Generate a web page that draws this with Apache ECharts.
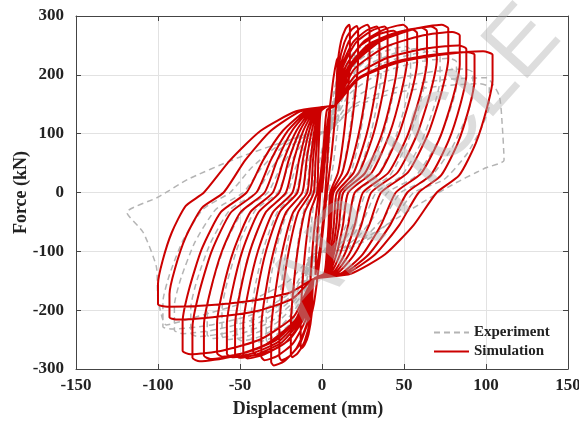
<!DOCTYPE html>
<html>
<head>
<meta charset="utf-8">
<script src="https://cdn.jsdelivr.net/npm/echarts@6/dist/echarts.min.js"></script>
<style>
html,body{margin:0;padding:0;background:#fff;}
#chart{width:579px;height:421px;}
</style>
</head>
<body>
<div id="chart"></div>
<script>
// ---- axis ticks ----
const xTicks = [-150, -100, -50, 0, 50, 100, 150];
const yTicks = [-300, -200, -100, 0, 100, 200, 300];
const seriesNames = ['Experiment', 'Simulation'];

// ---- Simulation cycles [displacement mm, force kN] ----
const simC1 = [[0,0],[2.5,75],[5,150],[4.5,110],[2,0],[-1,-90],[-4,-140],[-3.5,-100],[-1,0],[2,90]];
const simC2 = [[5,150],[7,195],[9,225],[10,230],[9.5,180],[6,70],[3,0],[0,-80],[-3,-150],[-5,-190],[-7,-212],[-8,-215],[-7.5,-170],[-5,-70],[-2,0],[1,80],[3,140]];
const simC3 = [[8,148],[9.4,215],[11.6,257],[14.3,278],[16.5,285],[17,279],[17,228],[15.8,171],[13.4,100],[9.8,34],[5,0],[4,-55],[2.8,-105],[1.3,-138],[-5,-147],[-6.2,-205],[-8.2,-241],[-10.6,-259],[-12.6,-265],[-13,-259],[-13,-212],[-12,-159],[-10,-93],[-7,-32],[-3,0],[-2.3,55],[-1.6,105],[-0.7,138],[3,146]];
const simC4 = [[8,148],[10.1,214],[13.6,255],[17.8,276],[21.2,283],[22,277],[22,226],[20.4,170],[17.2,99],[12.4,34],[6,0],[4.8,-55],[3.3,-105],[1.5,-138],[-5,-147],[-7.1,-213],[-10.6,-253],[-14.8,-273],[-18.2,-280],[-19,-274],[-19,-224],[-17.6,-168],[-14.8,-98],[-10.6,-34],[-5,0],[-3.9,55],[-2.6,105],[-1.1,138],[3,146]];
const simC5 = [[8,148],[11.2,215],[16.4,257],[22.7,278],[27.7,285],[29,279],[29,228],[26.8,171],[22.4,100],[15.8,34],[7,0],[5.6,-55],[3.9,-105],[1.8,-138],[-5,-147],[-8.2,-215],[-13.4,-257],[-19.7,-278],[-24.7,-285],[-26,-279],[-26,-228],[-24.1,-171],[-20.3,-100],[-14.6,-34],[-7,0],[-5.5,55],[-3.6,105],[-1.5,138],[3,146]];
const simC6 = [[8,148],[12,214],[18.8,255],[26.9,275],[33.4,282],[35,276],[35,226],[32.4,169],[27.2,99],[19.4,34],[9,0],[7.2,-55],[5,-105],[2.3,-138],[-5,-147],[-8.9,-220],[-15.4,-264],[-23.2,-287],[-29.4,-294],[-31,-288],[-31,-235],[-28.8,-176],[-24.4,-103],[-17.8,-35],[-9,0],[-7,55],[-4.7,105],[-2,138],[3,146]];
const simC7 = [[8,148],[12.8,214],[20.8,255],[30.4,275],[38.1,282],[40,276],[40,226],[37.1,169],[31.3,99],[22.6,34],[11,0],[8.8,-55],[6,-105],[2.8,-138],[-5,-147],[-9.8,-215],[-17.8,-257],[-27.4,-278],[-35.1,-285],[-37,-279],[-37,-228],[-34.5,-171],[-29.5,-100],[-22,-34],[-12,0],[-9.4,55],[-6.2,105],[-2.6,138],[3,146]];
const simC8 = [[8,148],[13.7,210],[23.2,249],[34.6,269],[43.7,275],[46,269],[46,220],[42.7,165],[36.1,96],[26.2,33],[13,0],[10.4,-55],[7.2,-105],[3.3,-138],[-5,-147],[-10.6,-211],[-19.8,-250],[-30.9,-269],[-40,-276],[-42,-270],[-42,-221],[-39.3,-166],[-33.9,-97],[-25.8,-33],[-15,0],[-11.7,55],[-7.8,105],[-3.3,138],[3,146]];
const simC9 = [[8,148],[14.6,215],[25.6,257],[38.8,278],[49.4,285],[52,279],[52,228],[48.4,171],[41.2,100],[30.4,34],[16,0],[12.8,-55],[8.8,-105],[4,-138],[-5,-147],[-11.5,-214],[-22.2,-255],[-35.1,-275],[-45.4,-282],[-48,-276],[-48,-226],[-45,-169],[-39,-99],[-30,-34],[-18,0],[-14,55],[-9.4,105],[-4,138],[3,146]];
const simC10 = [[8,148],[15.5,211],[28,251],[43,270],[55,277],[58,271],[58,222],[54.2,166],[46.6,97],[35.2,33],[20,0],[16,-55],[11,-105],[5,-138],[-5,-147],[-12.2,-213],[-24.2,-254],[-38.6,-274],[-50.1,-281],[-53,-275],[-53,-225],[-49.9,-169],[-43.7,-98],[-34.4,-34],[-22,0],[-17.2,55],[-11.4,105],[-4.8,138],[3,146]];
const simC11 = [[8,148],[16.4,212],[30.4,253],[47.2,273],[60.6,280],[64,274],[64,224],[60.1,168],[52.3,98],[40.6,34],[25,0],[20,-55],[13.8,-105],[6.3,-138],[-5,-147],[-13,-212],[-26.2,-253],[-42.1,-273],[-54.8,-280],[-58,-274],[-58,-224],[-54.8,-168],[-48.4,-98],[-38.8,-34],[-26,0],[-20.3,55],[-13.5,105],[-5.7,138],[3,146]];
const simC12 = [[8,148],[17.3,214],[32.8,255],[51.4,275],[66.3,282],[70,276],[70,226],[66,169],[58,99],[46,34],[30,0],[24,-55],[16.5,-105],[7.5,-138],[-5,-147],[-13.9,-212],[-28.6,-252],[-46.3,-272],[-60.5,-279],[-64,-273],[-64,-223],[-60.6,-167],[-53.8,-98],[-43.6,-33],[-30,0],[-23.4,55],[-15.6,105],[-6.6,138],[3,146]];
const simC13 = [[8,148],[18.4,215],[35.6,257],[56.3,278],[72.9,285],[77,279],[77,228],[72.9,171],[64.7,100],[52.4,34],[36,0],[28.8,-55],[19.8,-105],[9,-138],[-5,-147],[-15,-214],[-31.8,-255],[-51.9,-276],[-68,-283],[-72,-277],[-72,-226],[-68.3,-170],[-60.9,-99],[-49.8,-34],[-35,0],[-27.3,55],[-18.2,105],[-7.7,138],[3,146]];
const simC14 = [[8,148],[19.4,209],[38.4,247],[61.2,267],[79.4,273],[84,267],[84,218],[80.1,164],[72.3,96],[60.6,33],[45,0],[36,-55],[24.8,-105],[11.3,-138],[-5,-147],[-16.1,-216],[-34.6,-259],[-56.8,-280],[-74.6,-287],[-79,-281],[-79,-230],[-75.1,-172],[-67.3,-100],[-55.6,-34],[-40,0],[-31.2,55],[-20.8,105],[-8.8,138],[3,146]];
const simC15 = [[8,148],[20,198],[40,229],[64,245],[83.2,250],[88,244],[88,200],[84.4,150],[77.2,88],[66.4,30],[52,0],[41.6,-55],[28.6,-105],[13,-138],[-5,-147],[-17,-210],[-37,-249],[-61,-269],[-80.2,-275],[-85,-269],[-85,-220],[-81.1,-165],[-73.3,-96],[-61.6,-33],[-46,0],[-35.9,55],[-23.9,105],[-10.1,138],[3,146]];
const simC16 = [[8,148],[20.8,192],[42,220],[67.5,234],[87.9,239],[93,234],[93,191],[89.6,143],[82.8,84],[72.6,29],[59,0],[47.2,-55],[32.5,-105],[14.8,-138],[-5,-147],[-18.2,-181],[-40.2,-202],[-66.6,-212],[-87.7,-216],[-93,-212],[-93,-173],[-89.7,-130],[-83.1,-76],[-73.2,-26],[-60,0],[-46.8,55],[-31.2,105],[-13.2,138],[3,146]];
const simC17 = [[8,148],[22.4,193],[46.4,221],[75.2,235],[98.2,240],[104,234],[104,192],[100.6,144],[93.8,84],[83.6,29],[70,0],[56,-55],[38.5,-105],[17.5,-138],[-5,-147],[-19.3,-170],[-43,-184],[-71.5,-192],[-94.3,-194],[-100,-190],[-100,-155],[-97.2,-116],[-91.6,-68],[-83.2,-23],[-72,0],[-56,55],[-37.4,105],[-15.8,138],[3,146],[8,148]];

// ---- Experiment cycles [displacement mm, force kN] ----
const expC1 = [[0,0],[3,70],[6,140],[5,100],[2,0],[-2,-70],[-5,-130],[-4,-90],[-1,0],[2,60]];
const expC2 = [[5,105],[8,160],[11,195],[12,200],[11,150],[7,50],[4,0],[0,-60],[-5,-105],[-7,-150],[-9.5,-190],[-10,-195],[-9,-140],[-6,-40],[-4,0],[-1,60],[3,104]];
const expC3 = [[5,105],[7.3,172],[11,211],[15.5,231],[19.1,238],[20,232],[20,190],[18.6,143],[15.8,83],[11.6,29],[6,0],[4.8,-40],[3.3,-75],[1.5,-98],[-5,-105],[-7,-169],[-10.2,-207],[-14.1,-226],[-17.2,-232],[-18,-226],[-18,-186],[-16.8,-139],[-14.4,-81],[-10.8,-28],[-6,0],[-4.7,40],[-3.1,75],[-1.3,98],[3,104]];
const expC4 = [[5,105],[8.5,178],[14.2,221],[21.1,243],[26.6,250],[28,244],[28,200],[26.2,150],[22.6,88],[17.2,30],[10,0],[8,-40],[5.5,-75],[2.5,-98],[-5,-105],[-8.2,-177],[-13.4,-219],[-19.7,-241],[-24.7,-248],[-26,-242],[-26,-198],[-24.4,-149],[-21.2,-87],[-16.4,-30],[-10,0],[-7.8,40],[-5.2,75],[-2.2,98],[3,104]];
const expC5 = [[5,105],[9.7,179],[17.4,223],[26.7,245],[34.1,252],[36,246],[36,202],[33.6,151],[28.8,88],[21.6,30],[12,0],[9.6,-40],[6.6,-75],[3,-98],[-5,-105],[-9.4,-181],[-16.6,-226],[-25.3,-248],[-32.3,-256],[-34,-250],[-34,-205],[-31.8,-154],[-27.4,-90],[-20.8,-31],[-12,0],[-9.4,40],[-6.2,75],[-2.6,98],[3,104]];
const expC6 = [[5,105],[11,178],[21,221],[33,243],[42.6,250],[45,244],[45,200],[42.1,150],[36.3,88],[27.6,30],[16,0],[12.8,-40],[8.8,-75],[4,-98],[-5,-105],[-10.7,-180],[-20.2,-225],[-31.6,-248],[-40.7,-255],[-43,-249],[-43,-204],[-40.3,-153],[-34.9,-89],[-26.8,-31],[-16,0],[-12.5,40],[-8.3,75],[-3.5,98],[3,104]];
const expC7 = [[5,105],[12.4,177],[24.6,219],[39.3,241],[51.1,248],[54,242],[54,198],[50.7,149],[44.1,87],[34.2,30],[21,0],[16.8,-40],[11.6,-75],[5.3,-98],[-5,-105],[-12,-179],[-23.8,-223],[-37.9,-245],[-49.2,-252],[-52,-246],[-52,-202],[-48.9,-151],[-42.7,-88],[-33.4,-30],[-21,0],[-16.4,40],[-10.9,75],[-4.6,98],[3,104]];
const expC8 = [[5,105],[13.7,175],[28.2,217],[45.6,238],[59.5,245],[63,239],[63,196],[59.4,147],[52.2,86],[41.4,29],[27,0],[21.6,-40],[14.9,-75],[6.8,-98],[-5,-105],[-13.4,-178],[-27.4,-221],[-44.2,-243],[-57.6,-250],[-61,-244],[-61,-200],[-57.6,-150],[-50.8,-88],[-40.6,-30],[-27,0],[-21.1,40],[-14,75],[-5.9,98],[3,104]];
const expC9 = [[5,105],[15,173],[31.8,213],[51.9,233],[68,240],[72,234],[72,192],[68.1,144],[60.3,84],[48.6,29],[33,0],[26.4,-40],[18.2,-75],[8.3,-98],[-5,-105],[-14.8,-177],[-31,-219],[-50.5,-241],[-66.1,-248],[-70,-242],[-70,-198],[-66.3,-149],[-58.9,-87],[-47.8,-30],[-33,0],[-25.7,40],[-17.2,75],[-7.3,98],[3,104]];
const expC10 = [[5,105],[16.6,167],[35.8,203],[58.9,222],[77.4,228],[82,222],[82,182],[77.8,137],[69.4,80],[56.8,27],[40,0],[32,-40],[22,-75],[10,-98],[-5,-105],[-16.3,-175],[-35,-217],[-57.5,-238],[-75.5,-245],[-80,-239],[-80,-196],[-76,-147],[-68,-86],[-56,-29],[-40,0],[-31.2,40],[-20.8,75],[-8.8,98],[3,104]];
const expC11 = [[5,105],[18,158],[39.8,189],[65.9,205],[86.8,210],[92,204],[92,168],[87.6,126],[78.8,74],[65.6,25],[48,0],[38.4,-40],[26.4,-75],[12,-98],[-5,-105],[-17.8,-173],[-39,-213],[-64.5,-233],[-84.9,-240],[-90,-234],[-90,-192],[-85.8,-144],[-77.4,-84],[-64.8,-29],[-48,0],[-37.4,40],[-25,75],[-10.6,98],[3,104]];
const expC12 = [[5,105],[19.6,145],[43.8,169],[72.9,181],[96.2,185],[102,179],[102,148],[97.4,111],[88.2,65],[74.4,22],[56,0],[44.8,-40],[30.8,-75],[14,-98],[-5,-105],[-18.8,-169],[-41.8,-207],[-69.4,-226],[-91.5,-232],[-97,-228],[-97,-186],[-92.9,-139],[-84.7,-81],[-72.4,-28],[-56,0],[-43.7,40],[-29.1,75],[-12.3,98],[3,104]];
const expC13 = [[5,105],[20,150],[45,178],[75,192],[100,195],[108,165],[110,110],[111,55],[100,42],[94,34],[82,17],[64,-12],[45,-45],[25,-80],[8,-100],[-5,-105],[-20,-150],[-45,-185],[-75,-210],[-95,-225],[-100,-180],[-101,-126],[-109,-68],[-119,-34],[-100,-8],[-82,22],[-54,56],[-30,80],[-10,98],[3,104]];

const simulation = [].concat(simC1, simC2, simC3, simC4, simC5, simC6, simC7, simC8, simC9,
  simC10, simC11, simC12, simC13, simC14, simC15, simC16, simC17);
const experiment = [].concat(expC1, expC2, expC3, expC4, expC5, expC6, expC7, expC8, expC9,
  expC10, expC11, expC12, expC13);

const serif = '"Liberation Serif", "Times New Roman", serif';
const chart = echarts.init(document.getElementById('chart'), null, {renderer: 'canvas'});

const axisLineStyle = {color: '#444', width: 1};
const splitStyle = {color: '#e2e2e2', width: 1};

chart.setOption({
  animation: false,
  backgroundColor: '#fff',
  grid: {left: 76, right: 11, top: 16, bottom: 52, containLabel: false, outerBoundsMode: 'none'},
  legend: {
    data: seriesNames,
    orient: 'vertical',
    left: 428,
    top: 320,
    itemWidth: 35,
    itemHeight: 14,
    itemGap: 4,
    itemStyle: {opacity: 0},
    textStyle: {fontFamily: serif, fontWeight: 'bold', fontSize: 15, color: '#222'}
  },
  xAxis: [{
    type: 'value', min: xTicks[0], max: xTicks[xTicks.length-1], interval: 50,
    position: 'bottom',
    name: 'Displacement (mm)', nameLocation: 'middle', nameGap: 31,
    nameMoveOverlap: false,
    nameTextStyle: {fontFamily: serif, fontWeight: 'bold', fontSize: 18, color: '#222', padding: [0, 28, 0, 0]},
    axisLine: {show: true, onZero: false, lineStyle: axisLineStyle},
    axisTick: {show: true, inside: true, length: 5, lineStyle: axisLineStyle},
    axisLabel: {fontFamily: serif, fontWeight: 'bold', fontSize: 17, color: '#222', margin: 8},
    splitLine: {show: true, lineStyle: splitStyle}
  }, {
    type: 'value', min: xTicks[0], max: xTicks[xTicks.length-1], interval: 50,
    position: 'top',
    axisLine: {show: true, onZero: false, lineStyle: axisLineStyle},
    axisTick: {show: true, inside: true, length: 5, lineStyle: axisLineStyle},
    axisLabel: {show: false},
    splitLine: {show: false}
  }],
  yAxis: [{
    type: 'value', min: yTicks[0], max: yTicks[yTicks.length-1], interval: 100,
    position: 'left',
    name: 'Force (kN)', nameLocation: 'middle', nameGap: 46,
    nameMoveOverlap: false,
    nameTextStyle: {fontFamily: serif, fontWeight: 'bold', fontSize: 18, color: '#222'},
    axisLine: {show: true, onZero: false, lineStyle: axisLineStyle},
    axisTick: {show: true, inside: true, length: 5, lineStyle: axisLineStyle},
    axisLabel: {fontFamily: serif, fontWeight: 'bold', fontSize: 17, color: '#222', margin: 12},
    splitLine: {show: true, lineStyle: splitStyle}
  }, {
    type: 'value', min: yTicks[0], max: yTicks[yTicks.length-1], interval: 100,
    position: 'right',
    axisLine: {show: true, onZero: false, lineStyle: axisLineStyle},
    axisTick: {show: true, inside: true, length: 5, lineStyle: axisLineStyle},
    axisLabel: {show: false},
    splitLine: {show: false}
  }],
  series: [{
    name: seriesNames[0],
    type: 'line',
    xAxisIndex: 0, yAxisIndex: 0,
    data: experiment,
    symbol: 'none',
    smooth: 0.2,
    z: 2,
    lineStyle: {color: '#b4b4b4', width: 1.5, type: [6, 4]},
    itemStyle: {color: '#b4b4b4'}
  }, {
    name: seriesNames[1],
    type: 'line',
    xAxisIndex: 0, yAxisIndex: 0,
    data: simulation,
    symbol: 'none',
    smooth: 0.2,
    z: 3,
    lineStyle: {color: '#cc0000', width: 2},
    itemStyle: {color: '#cc0000'}
  }],
  graphic: [{
    type: 'text',
    x: 415, y: 165,
    rotation: 48 * Math.PI / 180,
    z: 100,
    silent: true,
    style: {
      text: 'ARTICLE',
      font: '92px "Liberation Sans", Arial, sans-serif',
      fill: 'rgba(175,175,175,0.42)',
      align: 'center',
      verticalAlign: 'middle'
    }
  }]
});
</script>
</body>
</html>
